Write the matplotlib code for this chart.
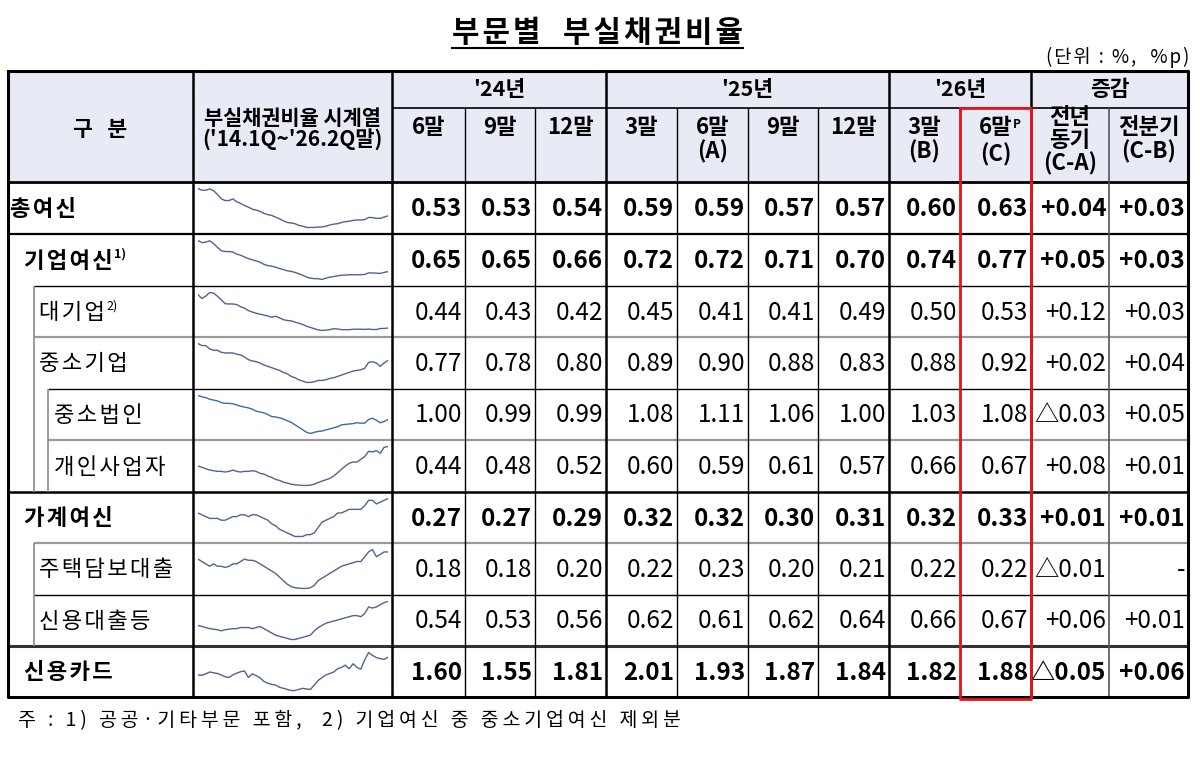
import matplotlib.pyplot as plt

plt.rcParams['font.family'] = ['Noto Sans CJK KR', 'DejaVu Sans']

# ---- data ----
row_labels = ['총여신', '기업여신', '대기업', '중소기업', '중소법인', '개인사업자',
              '가계여신', '주택담보대출', '신용대출등', '신용카드']
label_sup = ['', '1)', '2)', '', '', '', '', '', '', '']
bold_rows = [True, True, False, False, False, False, True, False, False, True]
indent = [0, 1, 2, 2, 3, 3, 1, 2, 2, 1]

year_groups = ["'24년", "'25년", "'26년", '증감']
sub_heads = ['6말', '9말', '12말', '3말', '6말\n(A)', '9말', '12말', '3말\n(B)',
             '6말\n(C)', '전년\n동기\n(C-A)', '전분기\n(C-B)']

# quarter-end ratios: '24.6 '24.9 '24.12 '25.3 '25.6 '25.9 '25.12 '26.3 '26.6
q_total = [0.53, 0.53, 0.54, 0.59, 0.59, 0.57, 0.57, 0.60, 0.63]
q_corp = [0.65, 0.65, 0.66, 0.72, 0.72, 0.71, 0.70, 0.74, 0.77]
q_large = [0.44, 0.43, 0.42, 0.45, 0.41, 0.41, 0.49, 0.50, 0.53]
q_sme = [0.77, 0.78, 0.80, 0.89, 0.90, 0.88, 0.83, 0.88, 0.92]
q_sme_corp = [1.00, 0.99, 0.99, 1.08, 1.11, 1.06, 1.00, 1.03, 1.08]
q_self = [0.44, 0.48, 0.52, 0.60, 0.59, 0.61, 0.57, 0.66, 0.67]
q_house = [0.27, 0.27, 0.29, 0.32, 0.32, 0.30, 0.31, 0.32, 0.33]
q_mort = [0.18, 0.18, 0.20, 0.22, 0.23, 0.20, 0.21, 0.22, 0.22]
q_credit = [0.54, 0.53, 0.56, 0.62, 0.61, 0.62, 0.64, 0.66, 0.67]
q_card = [1.60, 1.55, 1.81, 2.01, 1.93, 1.87, 1.84, 1.82, 1.88]

# changes (C-A, C-B)
chg_yoy = [0.04, 0.05, 0.12, 0.02, -0.03, 0.08, 0.01, -0.01, 0.06, -0.05]
chg_qoq = [0.03, 0.03, 0.03, 0.04, 0.05, 0.01, 0.01, 0.00, 0.01, 0.06]

# sparkline history '14.1Q ~ '24.1Q
h_total = [1.29, 1.25, 1.25, 1.28, 1.24, 1.15, 1.04, 1.00, 1.00, 1.04, 0.97, 0.93, 0.88, 0.84,
           0.79, 0.77, 0.74, 0.69, 0.66, 0.64, 0.60, 0.56, 0.51, 0.47, 0.46, 0.44, 0.40, 0.38,
           0.35, 0.35, 0.35, 0.36, 0.36, 0.38, 0.41, 0.43, 0.44, 0.47, 0.49, 0.50, 0.52]
h_corp = [1.96, 1.88, 1.90, 1.95, 1.85, 1.70, 1.57, 1.54, 1.54, 1.52, 1.44, 1.40, 1.33, 1.27,
          1.22, 1.18, 1.13, 1.05, 1.00, 0.98, 0.94, 0.89, 0.85, 0.80, 0.78, 0.74, 0.69, 0.63,
          0.56, 0.52, 0.50, 0.50, 0.47, 0.52, 0.56, 0.58, 0.61, 0.63, 0.64, 0.65, 0.65]
h_large = [3.30, 2.98, 3.18, 3.48, 3.43, 3.18, 2.88, 2.55, 2.53, 2.53, 2.48, 2.30, 2.18, 1.98,
           1.86, 1.76, 1.68, 1.61, 1.53, 1.43, 1.51, 1.38, 1.23, 1.16, 1.13, 1.03, 0.93, 0.83,
           0.68, 0.58, 0.48, 0.38, 0.33, 0.36, 0.40, 0.48, 0.45, 0.40, 0.40, 0.40, 0.43]
h_sme = [1.17, 1.14, 1.14, 1.09, 1.07, 1.07, 1.04, 1.03, 1.03, 1.03, 1.01, 1.00, 0.97, 0.93,
         0.91, 0.90, 0.88, 0.85, 0.83, 0.81, 0.79, 0.77, 0.74, 0.72, 0.68, 0.66, 0.63, 0.61,
         0.59, 0.59, 0.60, 0.62, 0.62, 0.63, 0.65, 0.66, 0.68, 0.70, 0.72, 0.74, 0.76]
h_sme_corp = [1.66, 1.63, 1.61, 1.57, 1.55, 1.53, 1.49, 1.47, 1.47, 1.46, 1.43, 1.40, 1.38, 1.36,
              1.33, 1.28, 1.26, 1.24, 1.20, 1.15, 1.14, 1.12, 1.09, 1.05, 1.01, 0.95, 0.89, 0.83,
              0.77, 0.74, 0.77, 0.79, 0.80, 0.83, 0.85, 0.88, 0.90, 0.95, 0.96, 0.97, 0.98]
h_self = [0.38, 0.36, 0.34, 0.32, 0.31, 0.30, 0.30, 0.29, 0.30, 0.32, 0.30, 0.29, 0.30, 0.30,
          0.31, 0.30, 0.27, 0.26, 0.23, 0.21, 0.18, 0.165, 0.14, 0.125, 0.11, 0.10, 0.095, 0.09,
          0.09, 0.095, 0.11, 0.135, 0.155, 0.175, 0.195, 0.23, 0.28, 0.33, 0.38, 0.42, 0.44]
h_house = [0.25, 0.24, 0.23, 0.22, 0.22, 0.22, 0.21, 0.21, 0.22, 0.23, 0.23, 0.24, 0.24, 0.23,
           0.24, 0.24, 0.23, 0.22, 0.21, 0.19, 0.18, 0.16, 0.15, 0.14, 0.13, 0.12, 0.12, 0.12,
           0.13, 0.13, 0.14, 0.17, 0.20, 0.21, 0.22, 0.23, 0.25, 0.25, 0.26, 0.27, 0.27]
h_mort = [0.19, 0.18, 0.17, 0.16, 0.17, 0.16, 0.16, 0.155, 0.16, 0.17, 0.17, 0.18, 0.19, 0.185,
          0.185, 0.18, 0.17, 0.16, 0.15, 0.14, 0.13, 0.115, 0.10, 0.085, 0.075, 0.07, 0.068, 0.067,
          0.067, 0.07, 0.08, 0.10, 0.11, 0.12, 0.13, 0.14, 0.15, 0.16, 0.165, 0.17, 0.175]
h_credit = [0.45, 0.44, 0.43, 0.42, 0.415, 0.41, 0.40, 0.41, 0.415, 0.42, 0.42, 0.43, 0.43, 0.43,
            0.42, 0.43, 0.44, 0.42, 0.40, 0.38, 0.36, 0.35, 0.34, 0.33, 0.32, 0.32, 0.33, 0.34,
            0.35, 0.36, 0.40, 0.43, 0.45, 0.47, 0.48, 0.49, 0.50, 0.51, 0.52, 0.53, 0.54]
h_card = [1.39, 1.38, 1.42, 1.47, 1.45, 1.43, 1.39, 1.34, 1.32, 1.39, 1.44, 1.48, 1.50, 1.32,
          1.42, 1.37, 1.31, 1.21, 1.16, 1.13, 1.11, 1.05, 1.02, 0.99, 0.96, 0.96, 0.99, 1.02,
          1.00, 0.99, 1.11, 1.24, 1.32, 1.39, 1.43, 1.47, 1.56, 1.60, 1.66, 1.56, 1.70]

quarters = [q_total, q_corp, q_large, q_sme, q_sme_corp, q_self, q_house, q_mort, q_credit, q_card]
history = [h_total, h_corp, h_large, h_sme, h_sme_corp, h_self, h_house, h_mort, h_credit, h_card]

# ---- layout (pixels) ----
W, H = 1200, 762
col_x = [8, 193, 392, 465, 535, 606, 677, 748, 818, 889, 960, 1031, 1109, 1188]
top, mid, head_bot = 71, 108, 182
row_y = [182, 234, 286, 337, 389, 440, 492, 543, 595, 646, 697]
group_edges = [(392, 606), (606, 889), (889, 1031), (1031, 1188)]

HAIR = '\u200a'
THIN = '\u2009'


def spread(s, sp):
    # letter spacing with thin spaces (DejaVu fallback supplies the glyph)
    return sp.join(s)


fig = plt.figure(figsize=(12, 7.62), dpi=100)
ax = fig.add_axes([0, 0, 1, 1])
ax.set_xlim(0, W)
ax.set_ylim(H, 0)
ax.axis('off')
renderer = fig.canvas.get_renderer()

# title
t = ax.text(597, 33, spread('부문별  부실채권비율', HAIR), fontsize=21.5, fontweight='bold',
            ha='center', va='center')
bb = t.get_window_extent(renderer)
ax.plot([bb.x0, bb.x1], [48, 48], color='black', lw=1.5)
ax.text(1189, 57, spread('(단위 : %,  %p)', HAIR), fontsize=13.5, ha='right', va='center')

# header background
ax.fill_between([col_x[0], col_x[-1]], top, head_bot, color='#E8EAF6', zorder=0)

# header texts
ax.text((col_x[0] + col_x[1]) / 2, 130, '구   분', fontsize=15.5, fontweight='bold',
        ha='center', va='center')
ax.text((col_x[1] + col_x[2]) / 2, 129, "부실채권비율 시계열\n('14.1Q~'26.2Q말)", fontsize=15,
        fontweight='bold', ha='center', va='center', linespacing=0.98)
for (g0, g1), g in zip(group_edges, year_groups):
    ax.text((g0 + g1) / 2, 90, g, fontsize=15.5, fontweight='bold', ha='center', va='center')
for i, s in enumerate(sub_heads):
    cx = (col_x[i + 2] + col_x[i + 3]) / 2
    ty = 106 if s.count('\n') == 2 else 116
    if i == 8:
        t = ax.text(cx, ty, '6말', fontsize=16, fontweight='bold', ha='center', va='top')
        bb = t.get_window_extent(renderer)
        ax.text(bb.x1 + 1, H - bb.y1 + 2, 'P', fontsize=8.5, fontweight='bold',
                ha='left', va='top')
        ax.text(cx, ty + 27, '(C)', fontsize=16, fontweight='bold', ha='center', va='top')
    else:
        ax.text(cx, ty, s, fontsize=16, fontweight='bold', ha='center', va='top',
                linespacing=1.0 if s.count('\n') == 2 else 1.05)

# rows
x_ind = [10, 24, 39, 54]
for r, lab in enumerate(row_labels):
    y0, y1 = row_y[r], row_y[r + 1]
    cy = (y0 + y1) / 2 + 1
    w = 'bold' if bold_rows[r] else 'normal'
    t = ax.text(x_ind[indent[r]], cy, spread(lab, HAIR), fontsize=16, fontweight=w,
                ha='left', va='center')
    if label_sup[r]:
        bb = t.get_window_extent(renderer)
        ax.text(bb.x1 + 1, cy - 13, label_sup[r], fontsize=9, fontweight=w,
                ha='left', va='top')
    cells = ['%.2f' % v for v in quarters[r]]
    for c in (chg_yoy[r], chg_qoq[r]):
        if c > 0:
            cells.append('+%.2f' % c)
        elif c < 0:
            cells.append('△%.2f' % -c)
        else:
            cells.append('-')
    for i, s in enumerate(cells):
        ax.text(col_x[i + 3] - 3, cy, s, fontsize=17.5, fontweight=w, ha='right', va='center')
    # sparkline
    series = history[r] + quarters[r]
    sp = fig.add_axes([198 / W, 1 - (y1 - 5) / H, 190 / W, (y1 - y0 - 10) / H])
    sp.plot(range(len(series)), series, color='#50648E' if r != 4 else '#3F6AAE', lw=1.0)
    sp.margins(x=0, y=0.04)
    sp.axis('off')


# grid lines
def hline(y, xa, xb, color='black', lw=1.0):
    ax.plot([xa, xb], [y, y], color=color, lw=lw, solid_capstyle='butt')


def vline(x, ya, yb, color='black', lw=1.0):
    ax.plot([x, x], [ya, yb], color=color, lw=lw, solid_capstyle='butt')


hline(mid, col_x[2], col_x[-1], lw=1.2)
hline(head_bot, col_x[0], col_x[-1], lw=2)
hline(row_y[1], col_x[0], col_x[-1], lw=1.6)
hline(row_y[2], 34, col_x[-1], lw=1.0)
hline(row_y[3], 34, col_x[-1], color='#9a9a9a', lw=1.6)
hline(row_y[4], 48, col_x[-1], lw=1.0)
hline(row_y[5], 48, col_x[-1], color='#9a9a9a', lw=1.6)
hline(row_y[6], col_x[0], col_x[-1], lw=1.8)
hline(row_y[7], 34, col_x[-1], color='#9a9a9a', lw=1.6)
hline(row_y[8], 34, col_x[-1], lw=1.0)
hline(row_y[9], col_x[0], col_x[-1], color='#333333', lw=2.2)
vline(34, row_y[2], row_y[6], color='#8a8a8a', lw=1.2)
vline(48, row_y[4], row_y[6], color='#8a8a8a', lw=1.2)
vline(34, row_y[7], row_y[9], color='#8a8a8a', lw=1.2)

for x in col_x[1:-1]:
    if x in (193, 392, 606, 889, 1031):
        vline(x, top, row_y[-1], lw=1.8)
    elif x == 1109:
        vline(x, mid, row_y[-1], color='#555555', lw=1.2)
    else:
        vline(x, mid, row_y[-1], lw=1.0)

# outer border
ax.plot([col_x[0], col_x[-1], col_x[-1], col_x[0], col_x[0]],
        [top, top, row_y[-1], row_y[-1], top], color='black', lw=2.2)

# red highlight on latest quarter
ax.plot([col_x[10], col_x[11], col_x[11], col_x[10], col_x[10]],
        [mid, mid, row_y[-1] + 2, row_y[-1] + 2, mid], color='#E8141B', lw=2, zorder=5)

ax.text(18, 721, spread('주 : 1) 공공·기타부문 포함,  2) 기업여신 중 중소기업여신 제외분', THIN),
        fontsize=14, ha='left', va='center')

fig.savefig('out.png', dpi=100)
